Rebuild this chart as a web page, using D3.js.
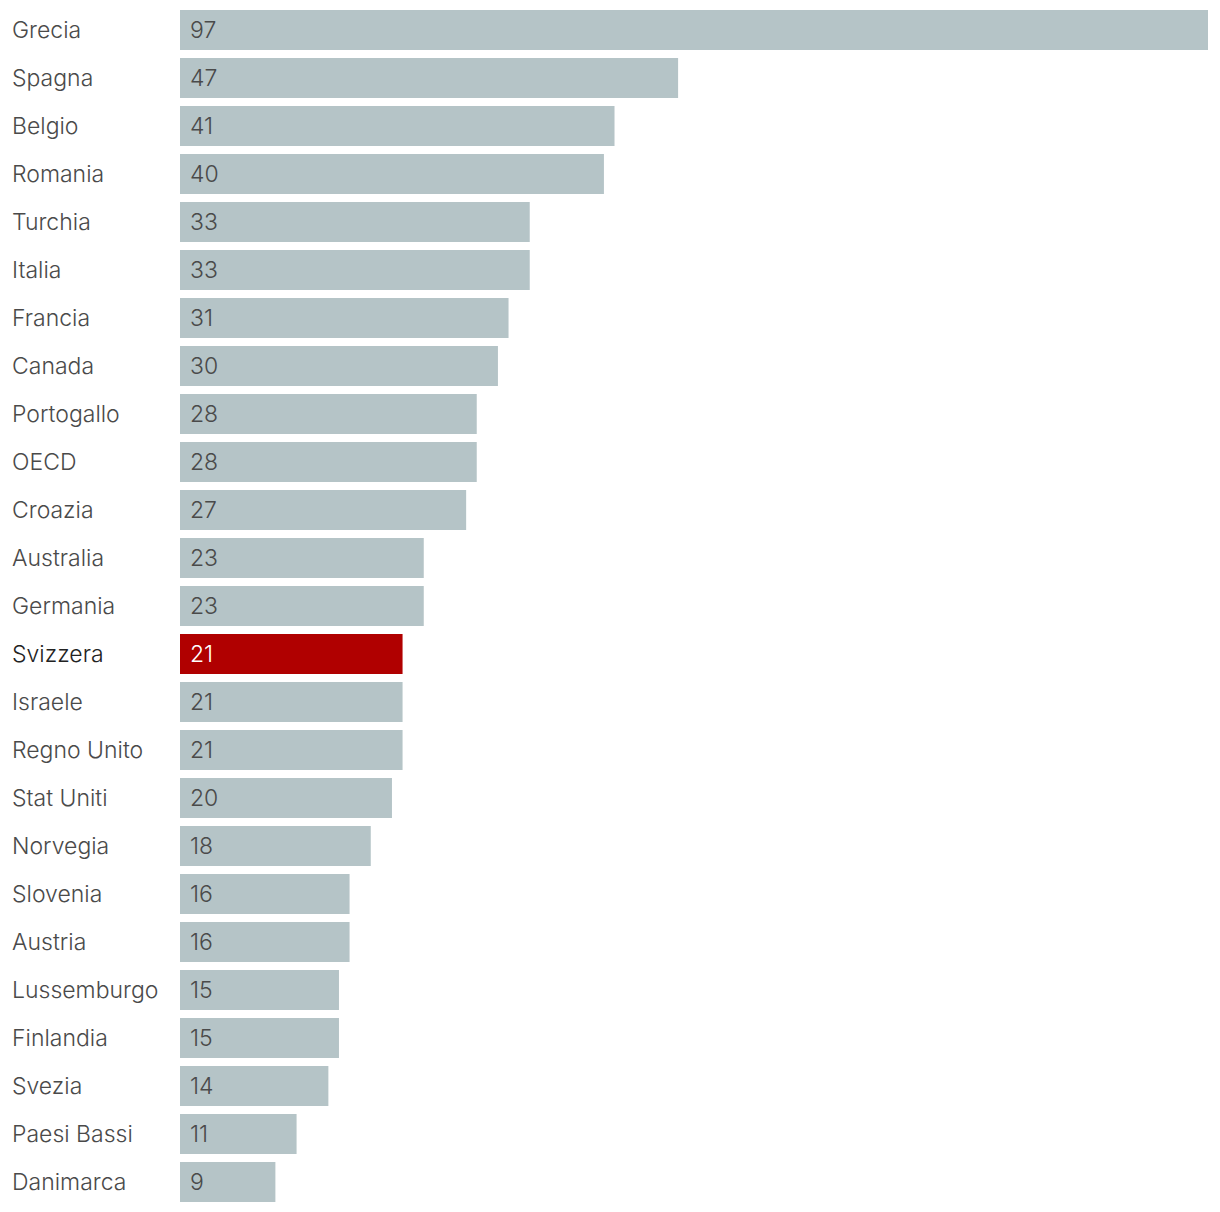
<!DOCTYPE html>
<html><head><meta charset="utf-8">
<script src="https://cdn.jsdelivr.net/npm/d3@7"></script>
<style>body{margin:0;background:#fff;} svg{display:block;}</style>
</head><body>
<svg id="c" width="1220" height="1212"></svg>
<script>
const countries = ["Grecia","Spagna","Belgio","Romania","Turchia","Italia","Francia","Canada","Portogallo","OECD","Croazia","Australia","Germania","Svizzera","Israele","Regno Unito","Stat Uniti","Norvegia","Slovenia","Austria","Lussemburgo","Finlandia","Svezia","Paesi Bassi","Danimarca"];
const values = [97,47,41,40,33,33,31,30,28,28,27,23,23,21,21,21,20,18,16,16,15,15,14,11,9];
const highlight = "Svizzera";

const svg = d3.select("#c");
const x = d3.scaleLinear().domain([0,97]).range([180,1208]);
const y = d3.scaleBand().domain(countries).range([10,1202]).paddingInner(1/6).paddingOuter(0);
const font = "Inter, 'Noto Sans', sans-serif";
const rows = svg.selectAll("g.row").data(countries).join("g").attr("class","row");
rows.append("rect")
  .attr("x", x(0))
  .attr("y", d=>y(d))
  .attr("width", (d,i)=>x(values[i])-x(0))
  .attr("height", y.bandwidth())
  .attr("fill", d=>d===highlight?"#b00000":"#b5c4c7");
rows.append("text")
  .attr("x", 12).attr("y", d=>y(d)+y.bandwidth()/2).attr("dy","0.35em")
  .attr("font-family", font).attr("font-size", 23)
  .attr("font-weight", d=>d===highlight?350:300)
  .attr("fill", d=>d===highlight?"#222":"#4a4a4a")
  .text(d=>d);
rows.append("text")
  .attr("x", 190).attr("y", d=>y(d)+y.bandwidth()/2).attr("dy","0.35em")
  .attr("font-family", font).attr("font-size", 23)
  .attr("font-weight", 300)
  .attr("fill", d=>d===highlight?"#fff":"#4a4a4a")
  .text((d,i)=>values[i]);
</script>
</body></html>
